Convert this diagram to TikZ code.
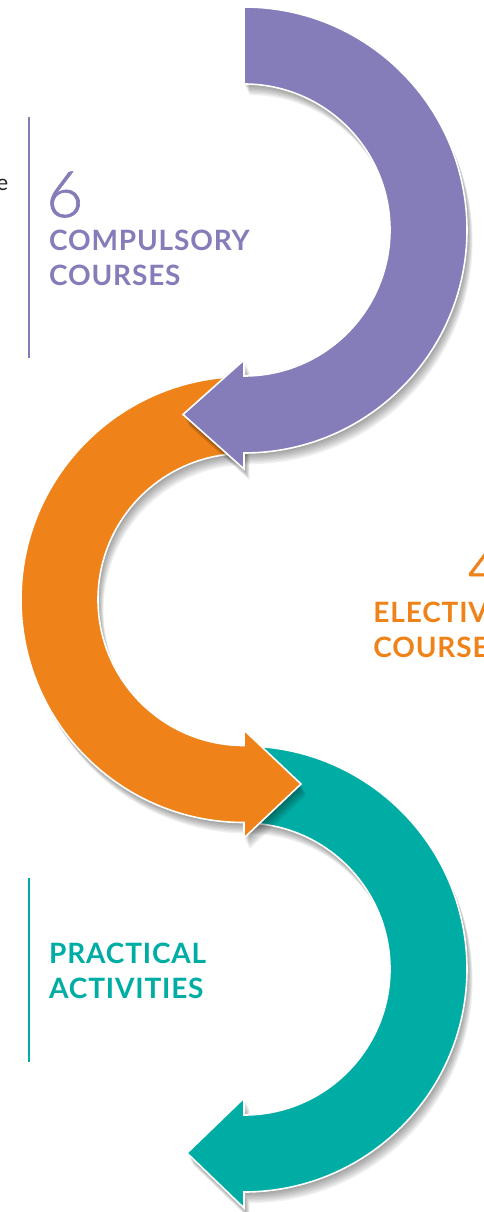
\documentclass[tikz,border=0pt]{standalone}
\usepackage{fontspec}
\setmainfont{Lato}
\newfontfamily\latolight{Lato Light}

\definecolor{violetS}{RGB}{133,125,185}
\definecolor{orangeS}{RGB}{239,131,25}
\definecolor{tealS}{RGB}{0,173,165}

% Contours des flèches (1 unité = 1pt, origine en haut à gauche)
\newcommand{\violetpath}{(244,-7) arc[start angle=90, end angle=-90, radius=223pt]
    -- (244,-469) -- (183,-414.5) -- (244,-360) -- (244,-376)
    arc[start angle=-90, end angle=90, radius=146pt] -- cycle}
\newcommand{\orangepath}{(244,-376.5) arc[start angle=90, end angle=270, radius=223pt]
    -- (244,-838) -- (301,-784) -- (244,-730) -- (244,-745.5)
    arc[start angle=270, end angle=90, radius=146pt] -- cycle}
\newcommand{\tealpath}{(244,-746) arc[start angle=90, end angle=-90, radius=223pt]
    -- (244,-1208) -- (187,-1153) -- (244,-1098) -- (244,-1115)
    arc[start angle=-90, end angle=90, radius=146pt] -- cycle}

\begin{document}
\begin{tikzpicture}[x=1pt, y=1pt,
    fleche/.style={draw=white, line width=1.6pt, line join=miter},
    ombre/.style={fill=black, opacity=0.055},
    titre/.style={font=\bfseries\fontsize{28}{34.5}\selectfont\addfontfeature{LetterSpace=3}, inner sep=0pt},
    chiffre/.style={font=\latolight\fontsize{64}{64}\selectfont\addfontfeature{FakeBold=1}, inner sep=0pt}]

    \useasboundingbox (0,0) rectangle (484,-1212);
    \clip (0,0) rectangle (484,-1212);

    % Flèche turquoise
    \foreach \k in {1,...,8}
        \fill[ombre, shift={(0.7*\k,-1.4*\k)}] \tealpath;
    \filldraw[fleche, fill=tealS] \tealpath;

    % Flèche orange
    \foreach \k in {1,...,8}
        \fill[ombre, shift={(0.7*\k,-1.4*\k)}] \orangepath;
    \filldraw[fleche, fill=orangeS] \orangepath;

    % Flèche violette
    \foreach \k in {1,...,8}
        \fill[ombre, shift={(0.7*\k,-1.4*\k)}] \violetpath;
    \filldraw[fleche, fill=violetS] \violetpath;

    % Bloc violet
    \node[anchor=base east, inner sep=0pt, font=\fontsize{22}{22}\selectfont, text=black!85] (frag) at (8.5,-190) {e};
    \draw[violetS, line width=2pt] (29,-117) -- (29,-358);
    \node[chiffre, anchor=base west, text=violetS] (six) at (46,-217) {6};
    \node[titre, anchor=north west, align=left, text=violetS] (compulsory) at (49,-230) {COMPULSORY\\COURSES};

    % Bloc orange (coupé à droite)
    \node[chiffre, anchor=base east, text=orangeS] (four) at (505,-589) {4};
    \node[titre, anchor=north east, align=right, text=orangeS] (elective) at (505,-602) {ELECTIVE\\COURSES};

    % Bloc turquoise
    \draw[tealS, line width=2pt] (29,-878) -- (29,-1062);
    \node[titre, anchor=north west, align=left, text=tealS] (practical) at (49,-943) {PRACTICAL\\ACTIVITIES};
\end{tikzpicture}
\end{document}
